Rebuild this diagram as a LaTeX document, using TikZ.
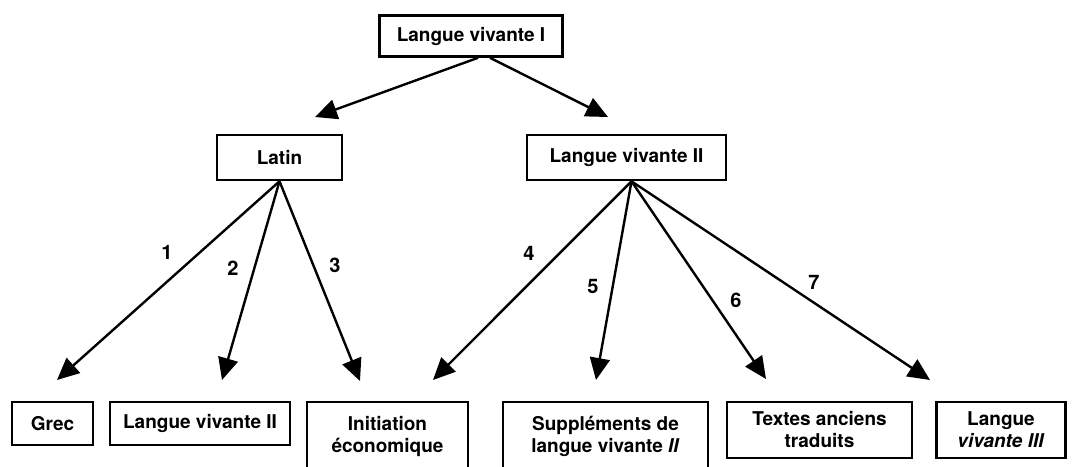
\documentclass[tikz,border=0pt]{standalone}
\usepackage{fontspec}
\setmainfont{TeX Gyre Heros}
\usetikzlibrary{arrows.meta,calc}
\tikzset{
  box/.style={draw,line width=2.6pt,align=center,inner sep=2pt,font=\bfseries\fontsize{19}{22}\selectfont},
  num/.style={font=\bfseries\fontsize{20}{22}\selectfont},
  >={Triangle[length=22pt,width=20pt]},
  link/.style={->,line width=2.4pt}
}
\begin{document}
\begin{tikzpicture}[x=1pt,y=1pt]
    \useasboundingbox (0,0) rectangle (1075,466);
    \clip (0,0) rectangle (1075,466);
    % levels
    \node at (471, 430) [box, minimum width=183pt, minimum height=41pt] (lv1) {Langue vivante I};
    \node at (279.5, 308.5) [box, minimum width=125pt, minimum height=45pt] (lat) {Latin};
    \node at (626.5, 308.5) [box, minimum width=199pt, minimum height=45pt] (lv2) {Langue vivante II};
    \node at (52.5, 42.5) [box, minimum width=81pt, minimum height=43pt] (grec) {Grec};
    \node at (200, 42.5) [box, minimum width=180pt, minimum height=43pt] (lv2b) {Langue vivante II};
    \node at (387.5, 30) [box, minimum width=161pt, minimum height=68pt] (eco) {Initiation\\économique};
    \node at (605.5, 30) [box, minimum width=205pt, minimum height=68pt] (supp) {Suppléments de\\langue vivante \textit{II}};
    \node at (819.5, 36) [box, minimum width=185pt, minimum height=56pt] (textes) {Textes anciens\\traduits};
    \node at (1001, 36) [box, minimum width=129pt, minimum height=56pt] (lv3) {Langue\\\textit{vivante III}};

    % arrow tips
    \coordinate (tLat) at (315, 349);
    \coordinate (tLv2) at (608, 349);
    \coordinate (t1) at (57, 86);
    \coordinate (t2) at (222, 86);
    \coordinate (t3) at (360, 85);
    \coordinate (t4) at (433, 86);
    \coordinate (t5) at (596, 86);
    \coordinate (t6) at (766, 87);
    \coordinate (t7) at (930, 86);

    \draw[link] ($(lv1.south)+(7,0)$) -- (tLat);
    \draw[link] ($(lv1.south)+(19,0)$) -- (tLv2);
    \draw[link] (lat.south) -- (t1);
    \draw[link] (lat.south) -- (t2);
    \draw[link] (lat.south) -- (t3);
    \draw[link] ($(lv2.south)+(5,0)$) -- (t4);
    \draw[link] ($(lv2.south)+(5,0)$) -- (t5);
    \draw[link] ($(lv2.south)+(5,0)$) -- (t6);
    \draw[link] ($(lv2.south)+(5,0)$) -- (t7);

    % numbers
    \node at (167, 214) [num] (n1) {1};
    \node at (233, 198) [num] (n2) {2};
    \node at (335, 201) [num] (n3) {3};
    \node at (529, 213) [num] (n4) {4};
    \node at (593, 179) [num] (n5) {5};
    \node at (736, 166) [num] (n6) {6};
    \node at (814, 184) [num] (n7) {7};
\end{tikzpicture}
\end{document}
